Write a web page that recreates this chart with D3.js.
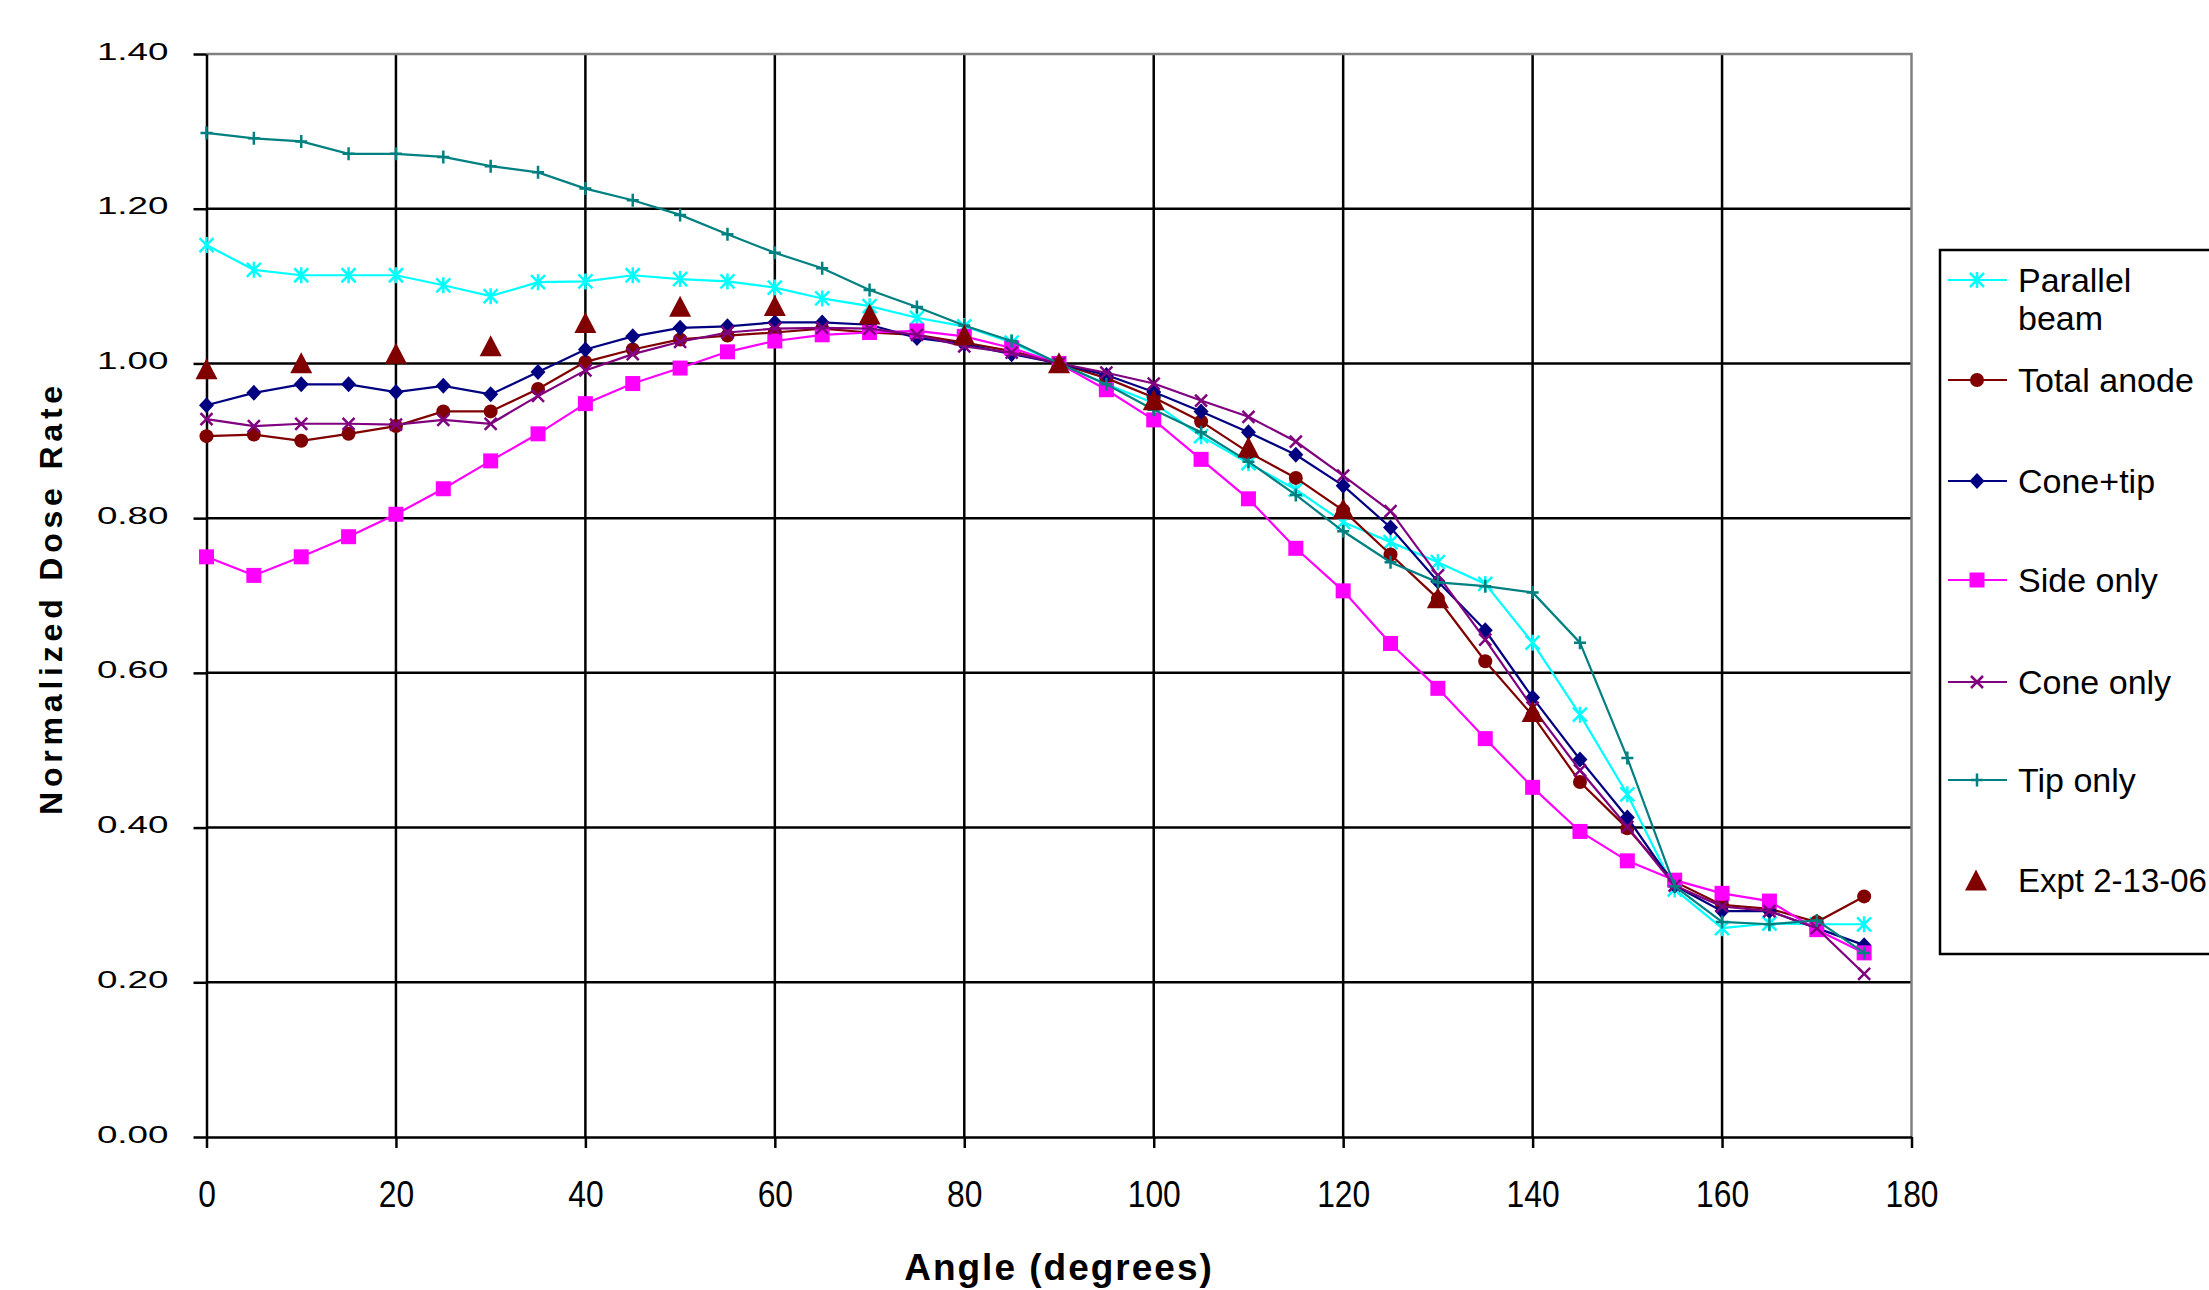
<!DOCTYPE html>
<html>
<head>
<meta charset="utf-8">
<script src="https://cdnjs.cloudflare.com/ajax/libs/d3/7.8.5/d3.min.js"></script>
<style>
	html, body { margin: 0; padding: 0; background: #fff; }
	svg { display: block; font-family: 'Liberation Sans', Arial, sans-serif; }
</style>
</head>
<body>
<div id="chart"></div>
<script>
// angles (degrees)
const angles = [0, 5, 10, 15, 20, 25, 30, 35, 40, 45, 50, 55, 60, 65, 70, 75, 80, 85, 90, 95, 100, 105, 110, 115, 120, 125, 130, 135, 140, 145, 150, 155, 160, 165, 170, 175];

const parallelBeam = [1.153, 1.121, 1.114, 1.114, 1.114, 1.101, 1.087, 1.105, 1.106, 1.114, 1.109, 1.106, 1.098, 1.084, 1.074, 1.059, 1.048, 1.027, 1.0, 0.973, 0.949, 0.906, 0.871, 0.837, 0.795, 0.769, 0.743, 0.715, 0.639, 0.546, 0.443, 0.32, 0.27, 0.276, 0.275, 0.275];
const totalAnode = [0.906, 0.908, 0.9, 0.909, 0.919, 0.938, 0.938, 0.967, 1.002, 1.018, 1.031, 1.036, 1.04, 1.045, 1.04, 1.037, 1.027, 1.016, 1.0, 0.981, 0.956, 0.925, 0.885, 0.852, 0.81, 0.753, 0.696, 0.615, 0.545, 0.459, 0.399, 0.33, 0.3, 0.295, 0.278, 0.311];
const conePlusTip = [0.946, 0.962, 0.973, 0.973, 0.963, 0.971, 0.96, 0.989, 1.018, 1.035, 1.046, 1.048, 1.053, 1.053, 1.05, 1.033, 1.025, 1.012, 1.0, 0.985, 0.963, 0.938, 0.911, 0.882, 0.842, 0.788, 0.718, 0.655, 0.568, 0.488, 0.413, 0.325, 0.292, 0.292, 0.27, 0.248];
const sideOnly = [0.75, 0.726, 0.75, 0.776, 0.805, 0.838, 0.874, 0.909, 0.948, 0.974, 0.994, 1.015, 1.029, 1.037, 1.04, 1.042, 1.035, 1.02, 1.0, 0.966, 0.927, 0.876, 0.825, 0.761, 0.706, 0.638, 0.58, 0.515, 0.452, 0.395, 0.357, 0.332, 0.315, 0.305, 0.268, 0.238];
const coneOnly = [0.928, 0.919, 0.922, 0.922, 0.921, 0.927, 0.922, 0.958, 0.991, 1.012, 1.028, 1.04, 1.045, 1.046, 1.045, 1.037, 1.022, 1.014, 1.0, 0.988, 0.974, 0.952, 0.931, 0.899, 0.855, 0.809, 0.726, 0.643, 0.555, 0.474, 0.401, 0.325, 0.298, 0.292, 0.27, 0.211];
const tipOnly = [1.298, 1.291, 1.287, 1.271, 1.271, 1.267, 1.255, 1.247, 1.226, 1.211, 1.192, 1.167, 1.143, 1.123, 1.095, 1.073, 1.049, 1.029, 1.0, 0.973, 0.94, 0.911, 0.873, 0.83, 0.783, 0.743, 0.717, 0.712, 0.704, 0.639, 0.49, 0.324, 0.278, 0.275, 0.28, 0.238];

// experiment 2-13-06
const exptAngles = [0, 10, 20, 30, 40, 50, 60, 70, 80, 90, 100, 110, 120, 130, 140];
const exptValues = [0.993, 1.001, 1.013, 1.023, 1.053, 1.074, 1.075, 1.064, 1.037, 1.001, 0.953, 0.892, 0.812, 0.697, 0.55];

const seriesNames = ['Parallel beam', 'Total anode', 'Cone+tip', 'Side only', 'Cone only', 'Tip only'];
const exptName = 'Expt 2-13-06';

const xTicks = [0, 20, 40, 60, 80, 100, 120, 140, 160, 180];
const yTicks = [0, 0.2, 0.4, 0.6, 0.8, 1.0, 1.2, 1.4];

const width = 2209;
const height = 1290;
const plot = { left: 206.5, right: 1911.5, top: 54, bottom: 1137 };

// marker shapes, drawn round 0,0
const markerPaths = {
	star: 'M-7,-7L7,7M-7,7L7,-7M0,-8L0,8',
	circle: 'M-7,0A7,7 0 1,0 7,0A7,7 0 1,0 -7,0Z',
	diamond: 'M0,-8L7.5,0L0,8L-7.5,0Z',
	square: 'M-7.5,-7.5H7.5V7.5H-7.5Z',
	cross: 'M-6,-6L6,6M-6,6L6,-6',
	plus: 'M-6,0H6M0,-6.5V6.5',
	triangle: 'M0,-10.5L11,10.5L-11,10.5Z'
};

const seriesValues = [parallelBeam, totalAnode, conePlusTip, sideOnly, coneOnly, tipOnly];
const seriesStyle = [
	{ color: '#00ffff', marker: 'star', filled: false },
	{ color: '#800000', marker: 'circle', filled: true },
	{ color: '#000080', marker: 'diamond', filled: true },
	{ color: '#ff00ff', marker: 'square', filled: true },
	{ color: '#800080', marker: 'cross', filled: false },
	{ color: '#008080', marker: 'plus', filled: false }
];

const series = seriesNames.map((name, i) => ({
	name,
	...seriesStyle[i],
	points: angles.map((a, j) => ({ angle: a, value: seriesValues[i][j] }))
}));

const expt = exptAngles.map((a, j) => ({ angle: a, value: exptValues[j] }));

const svg = d3
	.select('#chart')
	.append('svg')
	.attr('width', width)
	.attr('height', height);

svg.append('rect').attr('width', width).attr('height', height).attr('fill', '#fff');

const xScale = d3.scaleLinear().domain([ 0, 180 ]).range([ plot.left, plot.right ]);
const yScale = d3.scaleLinear().domain([ 0, 1.4 ]).range([ plot.bottom, plot.top ]);

// gridlines
svg
	.append('g')
	.selectAll('line')
	.data(yTicks.filter((d) => d > 0 && d < 1.4))
	.join('line')
	.attr('x1', plot.left)
	.attr('x2', plot.right)
	.attr('y1', (d) => yScale(d))
	.attr('y2', (d) => yScale(d))
	.attr('stroke', '#000')
	.attr('stroke-width', 2.5);

svg
	.append('g')
	.selectAll('line')
	.data(xTicks.filter((d) => d > 0 && d < 180))
	.join('line')
	.attr('x1', (d) => xScale(d))
	.attr('x2', (d) => xScale(d))
	.attr('y1', plot.top)
	.attr('y2', plot.bottom)
	.attr('stroke', '#000')
	.attr('stroke-width', 2.5);

// plot area border (top, right)
svg
	.append('path')
	.attr('d', `M${plot.left},${plot.top}H${plot.right}V${plot.bottom}`)
	.attr('fill', 'none')
	.attr('stroke', '#808080')
	.attr('stroke-width', 2.5);

// y axis
const yAxis = svg
	.append('g')
	.attr('transform', `translate(${plot.left}, 0)`)
	.call(d3.axisLeft(yScale).tickValues(yTicks).tickSize(13).tickSizeOuter(0).tickFormat(d3.format('.2f')));

yAxis.select('.domain').attr('stroke', '#000').attr('stroke-width', 2.5);
yAxis.selectAll('.tick line').attr('stroke', '#000').attr('stroke-width', 2.5);
yAxis
	.selectAll('.tick text')
	.attr('x', 0)
	.attr('dy', 0)
	.attr('transform', 'translate(-38, 5) scale(1.6, 1)')
	.attr('text-anchor', 'end')
	.attr('fill', '#000')
	.style('font-family', "'Liberation Sans', Arial, sans-serif")
	.style('font-size', '23px');

// x axis
const xAxis = svg
	.append('g')
	.attr('transform', `translate(0, ${plot.bottom})`)
	.call(d3.axisBottom(xScale).tickValues(xTicks).tickSize(11).tickSizeOuter(0).tickFormat(d3.format('d')));

xAxis.select('.domain').attr('stroke', '#000').attr('stroke-width', 2.5);
xAxis.selectAll('.tick line').attr('stroke', '#000').attr('stroke-width', 2.5);
xAxis
	.selectAll('.tick text')
	.attr('y', 0)
	.attr('dy', 0)
	.attr('transform', 'translate(0, 70) scale(0.86, 1)')
	.attr('fill', '#000')
	.style('font-family', "'Liberation Sans', Arial, sans-serif")
	.style('font-size', '37px');

// axis titles
svg
	.append('text')
	.attr('x', 1059)
	.attr('y', 1280)
	.attr('text-anchor', 'middle')
	.style('font-size', '37px')
	.style('font-weight', 'bold')
	.style('letter-spacing', '2px')
	.text('Angle (degrees)');

svg
	.append('text')
	.attr('transform', 'translate(61.5, 598) rotate(-90)')
	.attr('text-anchor', 'middle')
	.style('font-size', '32px')
	.style('font-weight', 'bold')
	.style('letter-spacing', '4.8px')
	.text('Normalized Dose Rate');

// series lines + markers
const line = d3.line().x((d) => xScale(d.angle)).y((d) => yScale(d.value));

const drawMarker = (sel, s) => {
	sel
		.attr('d', markerPaths[s.marker])
		.attr('fill', s.filled ? s.color : 'none')
		.attr('stroke', s.color)
		.attr('stroke-width', s.filled ? 0 : 2.5);
};

series.forEach((s) => {
	const g = svg.append('g');
	g
		.append('path')
		.datum(s.points)
		.attr('d', line)
		.attr('fill', 'none')
		.attr('stroke', s.color)
		.attr('stroke-width', 2.2);

	g
		.selectAll('path.marker')
		.data(s.points)
		.join('path')
		.attr('class', 'marker')
		.attr('transform', (d) => `translate(${xScale(d.angle)}, ${yScale(d.value)})`)
		.call(drawMarker, s);
});

svg
	.append('g')
	.selectAll('path')
	.data(expt)
	.join('path')
	.attr('transform', (d) => `translate(${xScale(d.angle)}, ${yScale(d.value)})`)
	.attr('d', markerPaths.triangle)
	.attr('fill', '#800000');

// legend
const legend = svg.append('g');

legend
	.append('rect')
	.attr('x', 1940)
	.attr('y', 250)
	.attr('width', 300)
	.attr('height', 704)
	.attr('fill', '#fff')
	.attr('stroke', '#000')
	.attr('stroke-width', 2.5);

const legendRows = [280, 380, 481, 580, 682, 780];

series.forEach((s, i) => {
	const y = legendRows[i];
	legend
		.append('line')
		.attr('x1', 1948)
		.attr('x2', 2007)
		.attr('y1', y)
		.attr('y2', y)
		.attr('stroke', s.color)
		.attr('stroke-width', 2.2);

	legend.append('path').attr('transform', `translate(1977, ${y})`).call(drawMarker, s);

	const words = s.name === 'Parallel beam' ? [ 'Parallel', 'beam' ] : [ s.name ];
	const t = legend
		.append('text')
		.attr('x', 2018)
		.attr('y', y + 12)
		.style('font-size', '34px');
	words.forEach((w, k) => {
		t.append('tspan').attr('x', 2018).attr('dy', k === 0 ? 0 : 38).text(w);
	});
});

legend
	.append('path')
	.attr('transform', 'translate(1976, 880)')
	.attr('d', markerPaths.triangle)
	.attr('fill', '#800000');

legend
	.append('text')
	.attr('x', 2018)
	.attr('y', 892)
	.style('font-size', '33px')
	.text(exptName);
</script>
</body>
</html>
